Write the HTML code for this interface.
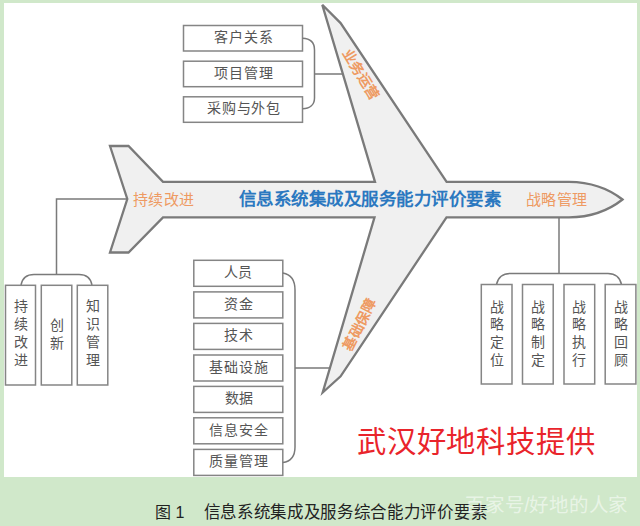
<!DOCTYPE html>
<html lang="zh-CN"><head><meta charset="utf-8">
<style>
html,body{margin:0;padding:0;}
body{width:640px;height:526px;background:#d0e8ca;position:relative;overflow:hidden;font-family:"Liberation Sans",sans-serif;}
#white{position:absolute;left:4px;top:3px;width:632.5px;height:474px;background:#fff;}
svg{position:absolute;left:0;top:0;}
.bx{fill:#fff;stroke:#858585;stroke-width:1.5;}
.br{fill:none;stroke:#7a7a7a;stroke-width:1.5;}
.t{font-family:"Liberation Sans",sans-serif;fill:#555;font-size:14px;}
.or{font-family:"Liberation Sans",sans-serif;fill:#ee9a62;font-size:15px;}
</style></head>
<body>
<div id="white"></div>
<svg width="640" height="526" viewBox="0 0 640 526">
  <!-- airplane -->
  <path d="M110,146 L128.5,146 L163,181.8 L375,181.8 L322.3,4.8 L340.6,23.1 L446.6,181.8 L569,181.8 C590,182 608,188 622.5,199.5 C608,211 590,217.2 569,217.4 L446.5,217.4 L340.6,376.3 L322.7,392.5 L374.5,217.4 L163,217.4 L128.5,252.5 L110,252.5 L127.3,199 Z" fill="#f0f0f0" stroke="#7a7a7a" stroke-width="2.3" stroke-linejoin="miter"/>

  <!-- top-left boxes -->
  <rect class="bx" x="183.5" y="25.5" width="119" height="25.5"/>
  <rect class="bx" x="183.5" y="61.2" width="119" height="25.5"/>
  <rect class="bx" x="183.5" y="96.8" width="119" height="25.5"/>
  <path class="br" d="M302.5,38.3 C309.5,38.5 314.5,42 314.5,50 L314.5,98 C314.5,105 309.5,108.5 302.5,108.7 M314.5,74 L343,74"/>
  <text class="t" x="213.6" y="42.4" textLength="59.3">客户关系</text>
  <text class="t" x="213.6" y="77.9" textLength="59.3">项目管理</text>
  <text class="t" x="207.2" y="113" textLength="72.8">采购与外包</text>

  <!-- left connector -->
  <path class="br" d="M127,199 L56.5,199 L56.5,274.5"/>
  <path class="br" d="M21,285 Q23,274.5 34,274.5 L79,274.5 Q90,274.5 92,285"/>
  <rect class="bx" x="5.5" y="285.3" width="30" height="99.7"/>
  <rect class="bx" x="41.3" y="285.3" width="30.5" height="99.7"/>
  <rect class="bx" x="77.3" y="285.3" width="30.5" height="99.7"/>
  <text class="t" x="20.5" y="311" text-anchor="middle">持</text>
  <text class="t" x="20.5" y="329" text-anchor="middle">续</text>
  <text class="t" x="20.5" y="347" text-anchor="middle">改</text>
  <text class="t" x="20.5" y="365" text-anchor="middle">进</text>
  <text class="t" x="56.5" y="329.5" text-anchor="middle">创</text>
  <text class="t" x="56.5" y="347.5" text-anchor="middle">新</text>
  <text class="t" x="92.5" y="311" text-anchor="middle">知</text>
  <text class="t" x="92.5" y="329" text-anchor="middle">识</text>
  <text class="t" x="92.5" y="347" text-anchor="middle">管</text>
  <text class="t" x="92.5" y="365" text-anchor="middle">理</text>

  <!-- middle bottom boxes -->
  <rect class="bx" x="193.8" y="260.3" width="89" height="26"/>
  <rect class="bx" x="193.8" y="291.9" width="89" height="26"/>
  <rect class="bx" x="193.8" y="323.4" width="89" height="26"/>
  <rect class="bx" x="193.8" y="355" width="89" height="26"/>
  <rect class="bx" x="193.8" y="386.4" width="89" height="26"/>
  <rect class="bx" x="193.8" y="417.8" width="89" height="26"/>
  <rect class="bx" x="193.8" y="449.4" width="89" height="26"/>
  <path class="br" d="M282.8,273 Q295,275 295,290 L295,447 Q295,461 282.8,462.5 M295,368 L330.5,368"/>
  <text class="t" x="224.4" y="277.1" textLength="28">人员</text>
  <text class="t" x="224.4" y="308.7" textLength="28.5">资金</text>
  <text class="t" x="224" y="340.2" textLength="28.8">技术</text>
  <text class="t" x="208.6" y="371.8" textLength="59">基础设施</text>
  <text class="t" x="224.6" y="403.2" textLength="28.2">数据</text>
  <text class="t" x="209.2" y="434.6" textLength="58.5">信息安全</text>
  <text class="t" x="209.2" y="466.2" textLength="58.5">质量管理</text>

  <!-- right connector -->
  <path class="br" d="M559,217.4 L559,273.5"/>
  <path class="br" d="M496.5,284.5 Q499,273.5 510,273.5 L608,273.5 Q619,273.5 621.5,284.5"/>
  <rect class="bx" x="481.3" y="284.5" width="30.7" height="99.5"/>
  <rect class="bx" x="522.5" y="284.5" width="30.7" height="99.5"/>
  <rect class="bx" x="564" y="284.5" width="30.7" height="99.5"/>
  <rect class="bx" x="605.2" y="284.5" width="30.7" height="99.5"/>
  <g class="t" text-anchor="middle">
    <text x="496.6" y="311.5">战</text><text x="496.6" y="329.3">略</text><text x="496.6" y="347">定</text><text x="496.6" y="364.8">位</text>
    <text x="537.8" y="311.5">战</text><text x="537.8" y="329.3">略</text><text x="537.8" y="347">制</text><text x="537.8" y="364.8">定</text>
    <text x="579.3" y="311.5">战</text><text x="579.3" y="329.3">略</text><text x="579.3" y="347">执</text><text x="579.3" y="364.8">行</text>
    <text x="620.5" y="311.5">战</text><text x="620.5" y="329.3">略</text><text x="620.5" y="347">回</text><text x="620.5" y="364.8">顾</text>
  </g>

  <!-- airplane labels -->
  <text class="or" x="132.5" y="204.5" textLength="61.5">持续改进</text>
  <text x="239" y="205" textLength="261.5" style="font-family:'Liberation Sans',sans-serif;font-weight:bold;font-size:17.5px;fill:#2b78c0;">信息系统集成及服务能力评价要素</text>
  <text class="or" x="525.5" y="204.5" textLength="61.5">战略管理</text>
  <text class="or" transform="translate(360.8,74.5) rotate(58.5)" x="0" y="5" text-anchor="middle" textLength="56" style="font-size:14px;font-weight:bold">业务运营</text>
  <text class="or" transform="translate(359.5,324.7) rotate(-63)" x="0" y="5" text-anchor="middle" textLength="56" style="font-size:14px;font-weight:bold">基础保障</text>

  <!-- watermark red -->
  <text x="357" y="451.5" textLength="237.5" style="font-family:'Liberation Sans',sans-serif;font-size:29.3px;fill:#e9242b;">武汉好地科技提供</text>

  <!-- caption -->
  <text x="155" y="517.5" style="font-family:'Liberation Sans',sans-serif;font-size:16px;fill:#222;">图 1</text>
  <text x="203.5" y="517.5" textLength="284" style="font-family:'Liberation Sans',sans-serif;font-size:16.5px;fill:#222;">信息系统集成及服务综合能力评价要素</text>
  <text x="465.2" y="511.5" textLength="163" style="font-family:'Liberation Sans',sans-serif;font-size:19.5px;fill:#fff;fill-opacity:0.55;">百家号/好地的人家</text>
</svg>
</body></html>
